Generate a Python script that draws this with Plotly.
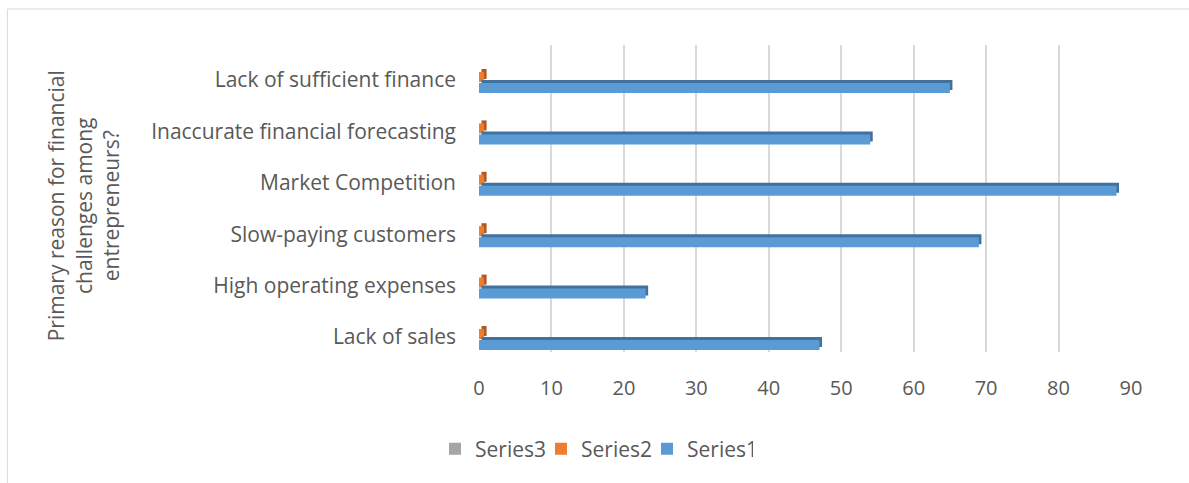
import plotly.graph_objects as go

# Survey categories (bottom to top on the category axis)
categories = [
    "Lack of sales",
    "High operating expenses",
    "Slow-paying customers",
    "Market Competition",
    "Inaccurate financial forecasting",
    "Lack of sufficient finance",
]
series1 = [47, 23, 69, 88, 54, 65]
series2 = [0.7, 0.7, 0.7, 0.7, 0.7, 0.7]
series3 = [0, 0, 0, 0, 0, 0]
x_ticks = [0, 10, 20, 30, 40, 50, 60, 70, 80, 90]

TEXT = "#595959"
FONT = "Open Sans"
FS = 21

W, H = 1189, 483
ML, MR, MT, MB = 479, 57.5, 45, 131
plot_w = W - ML - MR
plot_h = H - MT - MB

# bar geometry in category units: (front offset, width), depth face sits a bit higher
BAR_W = 0.195
DEPTH_UP = 0.058
DEPTH_BASE = 0.35

series_specs = [
    ("Series3", series3, "#A5A5A5", "#7C7C7C", 0.175),
    ("Series2", series2, "#ED7D31", "#AE5A21", -0.039),
    ("Series1", series1, "#5B9BD5", "#41719C", -0.253),
]

fig = go.Figure()
for name, vals, face, side, off in series_specs:
    # darker top/end face giving the bars a shallow 3-D look
    fig.add_trace(go.Bar(
        y=categories, x=vals, base=DEPTH_BASE, orientation="h",
        offset=off + DEPTH_UP, width=BAR_W,
        marker=dict(color=side, line=dict(width=0)),
        showlegend=False, hoverinfo="skip",
    ))
    fig.add_trace(go.Bar(
        y=categories, x=vals, orientation="h", name=name,
        offset=off, width=BAR_W,
        marker=dict(color=face, line=dict(width=0)),
    ))

fig.update_layout(
    width=W, height=H,
    margin=dict(l=ML, r=MR, t=MT, b=MB, pad=0),
    barmode="overlay",
    paper_bgcolor="white", plot_bgcolor="white",
    font=dict(family=FONT, size=FS, color=TEXT),
    showlegend=True,
    legend=dict(
        orientation="h", xref="container", yref="container",
        x=594 / W, y=1 - 449 / H, xanchor="center", yanchor="middle",
        font=dict(family=FONT, size=FS, color=TEXT),
        itemwidth=30, tracegroupgap=0,
        entrywidth=61, entrywidthmode="pixels",
    ),
    xaxis=dict(
        range=[0, 90], tickvals=x_ticks, ticktext=[str(v) for v in x_ticks],
        showgrid=True, gridcolor="#D9D9D9", gridwidth=2,
        zeroline=False, showline=False, ticks="",
        ticklabelstandoff=22,
        tickfont=dict(family=FONT, size=20, color=TEXT),
    ),
    yaxis=dict(
        type="category", categoryorder="array", categoryarray=categories,
        range=[-0.292, 5.681],
        showgrid=False, zeroline=False, showline=False, ticks="",
        ticklabelstandoff=22,
        tickfont=dict(family=FONT, size=FS, color=TEXT),
    ),
    annotations=[dict(
        text="Primary reason for financial<br>challenges among<br>entrepreneurs?",
        textangle=-90, showarrow=False,
        xref="paper", yref="paper",
        x=(83 - ML) / plot_w, y=(MT + plot_h - 206) / plot_h,
        xanchor="center", yanchor="middle",
        font=dict(family=FONT, size=FS, color=TEXT),
    )],
    shapes=[dict(
        type="rect", xref="paper", yref="paper", layer="below",
        x0=(7 - ML) / plot_w, x1=(W + 20 - ML) / plot_w,
        y0=(MT + plot_h - (H + 20)) / plot_h, y1=(MT + plot_h - 9) / plot_h,
        line=dict(color="#D9D9D9", width=1), fillcolor="rgba(0,0,0,0)",
    )],
)

fig.write_html("out.html")
